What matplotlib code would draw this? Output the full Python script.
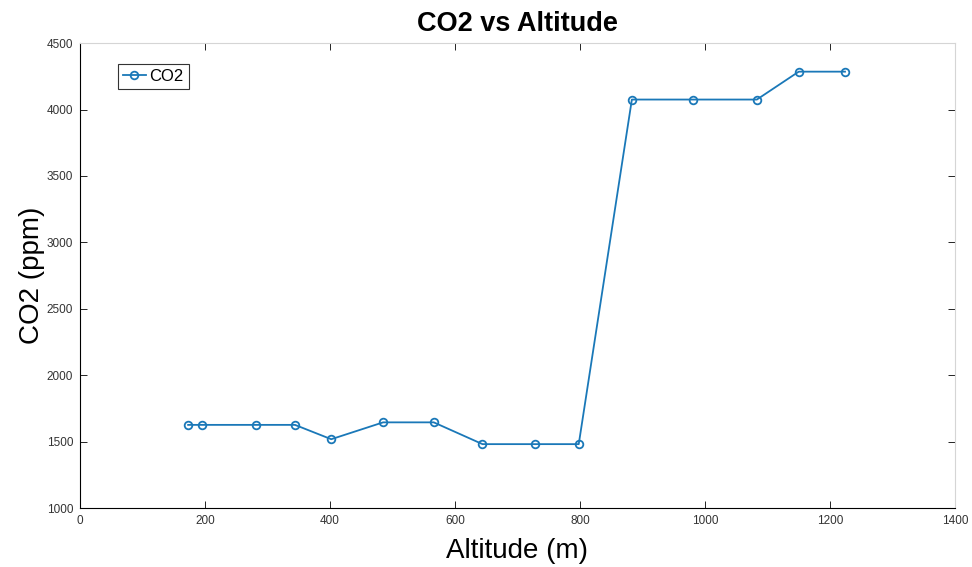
import matplotlib.pyplot as plt

# Values
altitude = [173, 196, 281, 344, 402, 485, 566, 644, 728, 798, 883, 981, 1083, 1150, 1224]
co2 = [1626, 1626, 1626, 1626, 1518, 1645, 1645, 1481, 1481, 1481, 4075, 4075, 4075, 4285, 4285]

plt.rcParams['font.family'] = ['Liberation Sans', 'DejaVu Sans']

fig = plt.figure(figsize=(9.72, 5.67), dpi=100)
ax = fig.add_axes([0.0823, 0.104, 0.9002, 0.82])

ax.plot(altitude, co2, '-o', color='#1a78b8', linewidth=1.3,
        markersize=5.5, markerfacecolor='none', markeredgewidth=1.3, label='CO2')

ax.set_xlim(0, 1400)
ax.set_ylim(1000, 4500)
ax.set_xticks(range(0, 1401, 200))
ax.set_yticks(range(1000, 4501, 500))
ax.tick_params(direction='in', top=True, right=True, labelsize=8.5, length=5,
               width=0.6, pad=5, labelcolor='#333333')
for s in ax.spines.values():
    s.set_linewidth(0.8)
ax.spines['top'].set_color('#d5d5d5')
ax.spines['right'].set_color('#d5d5d5')

ax.set_title('CO2 vs Altitude', fontsize=19.5, fontweight='bold', pad=9)
ax.set_xlabel('Altitude (m)', fontsize=20, labelpad=8)
ax.set_ylabel('CO2 (ppm)', fontsize=20, labelpad=1)

leg = ax.legend(loc='upper left', bbox_to_anchor=(0.043, 0.955), fontsize=12,
                handlelength=1.4, handletextpad=0.2, borderpad=0.3,
                fancybox=False, framealpha=1, edgecolor='#333333', borderaxespad=0)
leg.get_frame().set_linewidth(0.8)

plt.savefig('out.png', dpi=100)
